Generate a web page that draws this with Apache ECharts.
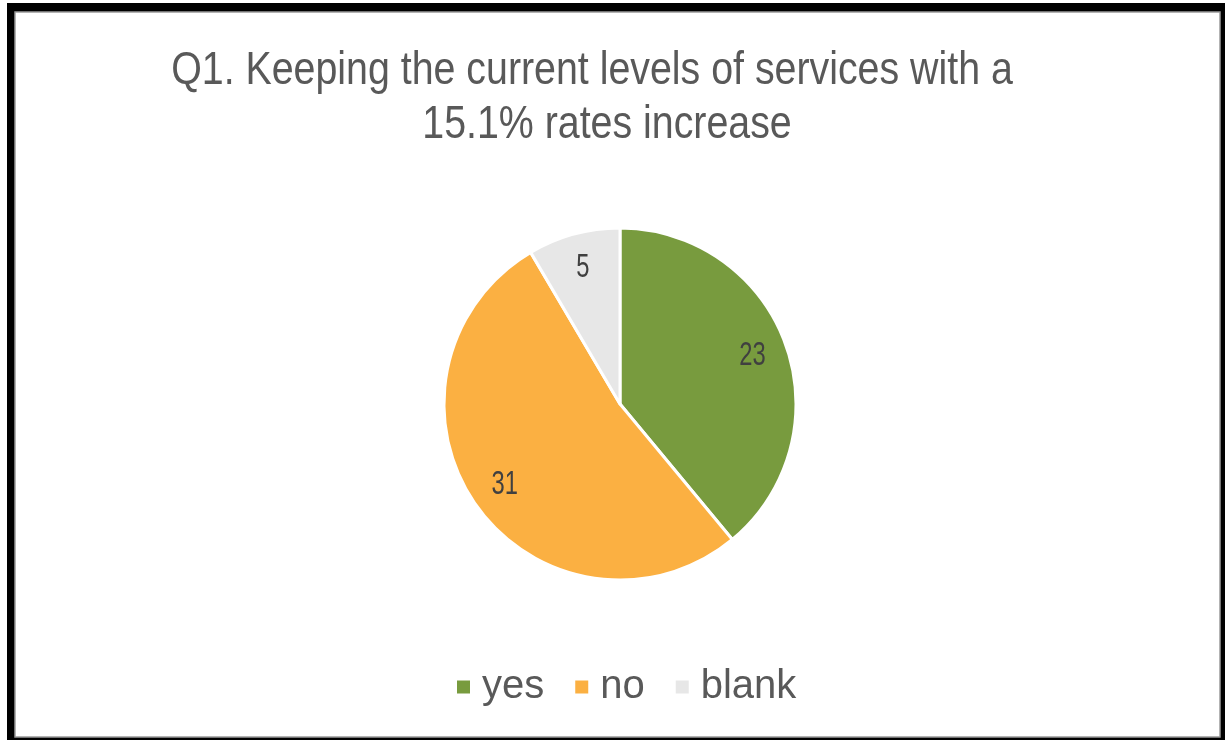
<!DOCTYPE html>
<html>
<head>
<meta charset="utf-8">
<script src="https://cdn.jsdelivr.net/npm/echarts@6/dist/echarts.min.js"></script>
<style>
  html, body { margin: 0; padding: 0; background: #ffffff; }
  #chart { width: 1225px; height: 740px; }
</style>
</head>
<body>
<div id="chart"></div>
<script>
// Survey answers for Q1
const titleLines = ['Q1. Keeping the current levels of services with a', '15.1% rates increase'];
const categories = ['yes', 'no', 'blank'];
const counts = [23, 31, 5];
const sliceColors = ['#789b3e', '#fbb042', '#e7e7e7'];

const pieData = categories.map((name, i) => ({ name, value: counts[i], itemStyle: { color: sliceColors[i] } }));

// Condensed look: regular sans squeezed horizontally
const NARROW_TITLE = 0.855;
const NARROW_LABEL = 0.72;
const baseFont = '"Liberation Sans", Arial, sans-serif';

const chart = echarts.init(document.getElementById('chart'), null, { renderer: 'canvas' });

function titleLine(id, text, cx, top) {
  return {
    id: id, type: 'text', x: cx, y: top, scaleX: NARROW_TITLE, silent: true,
    style: {
      text: text,
      align: 'center',
      verticalAlign: 'top',
      font: 'normal 46px ' + baseFont,
      fill: '#595959'
    }
  };
}

const frame = [
  { id: 'frameOuter', type: 'rect', z: -10, shape: { x: 7, y: 3, width: 1218, height: 737 }, style: { fill: '#000000' }, silent: true },
  { id: 'frameInner', type: 'rect', z: -9, shape: { x: 15, y: 12, width: 1205, height: 725 }, style: { fill: '#ffffff', stroke: '#9a9a9a', lineWidth: 1.5 }, silent: true },
  titleLine('title1', titleLines[0], 592, 48),
  titleLine('title2', titleLines[1], 607, 102)
];

chart.setOption({
  animation: false,
  backgroundColor: '#ffffff',
  graphic: frame,
  legend: {
    data: categories,
    top: 662,
    left: 450,
    icon: 'rect',
    itemWidth: 15,
    itemHeight: 15,
    itemGap: 29,
    selectedMode: false,
    textStyle: {
      fontFamily: baseFont,
      fontSize: 40,
      color: '#595959',
      padding: [0, 0, 0, 6]
    }
  },
  series: [
    {
      type: 'pie',
      center: [620, 404],
      radius: [0, 176],
      startAngle: 90,
      clockwise: true,
      silent: true,
      label: { show: false },
      labelLine: { show: false },
      itemStyle: { borderColor: '#ffffff', borderWidth: 3 },
      data: pieData
    }
  ]
});

// Value labels placed along each slice's bisector, from the pie's own layout
const sliceData = chart.getModel().getSeriesByIndex(0).getData();
const valueLabels = [];
sliceData.each(function (idx) {
  const lay = sliceData.getItemLayout(idx);
  const mid = (lay.startAngle + lay.endAngle) / 2;
  const rr = lay.r * 0.8;
  valueLabels.push({
    id: 'val' + idx, type: 'text', z: 10, silent: true,
    x: lay.cx + Math.cos(mid) * rr,
    y: lay.cy + Math.sin(mid) * rr,
    scaleX: NARROW_LABEL,
    style: {
      text: String(sliceData.get('value', idx)),
      align: 'center',
      verticalAlign: 'middle',
      font: 'normal 33px ' + baseFont,
      fill: '#404040'
    }
  });
});
chart.setOption({ graphic: frame.concat(valueLabels) });
</script>
</body>
</html>
